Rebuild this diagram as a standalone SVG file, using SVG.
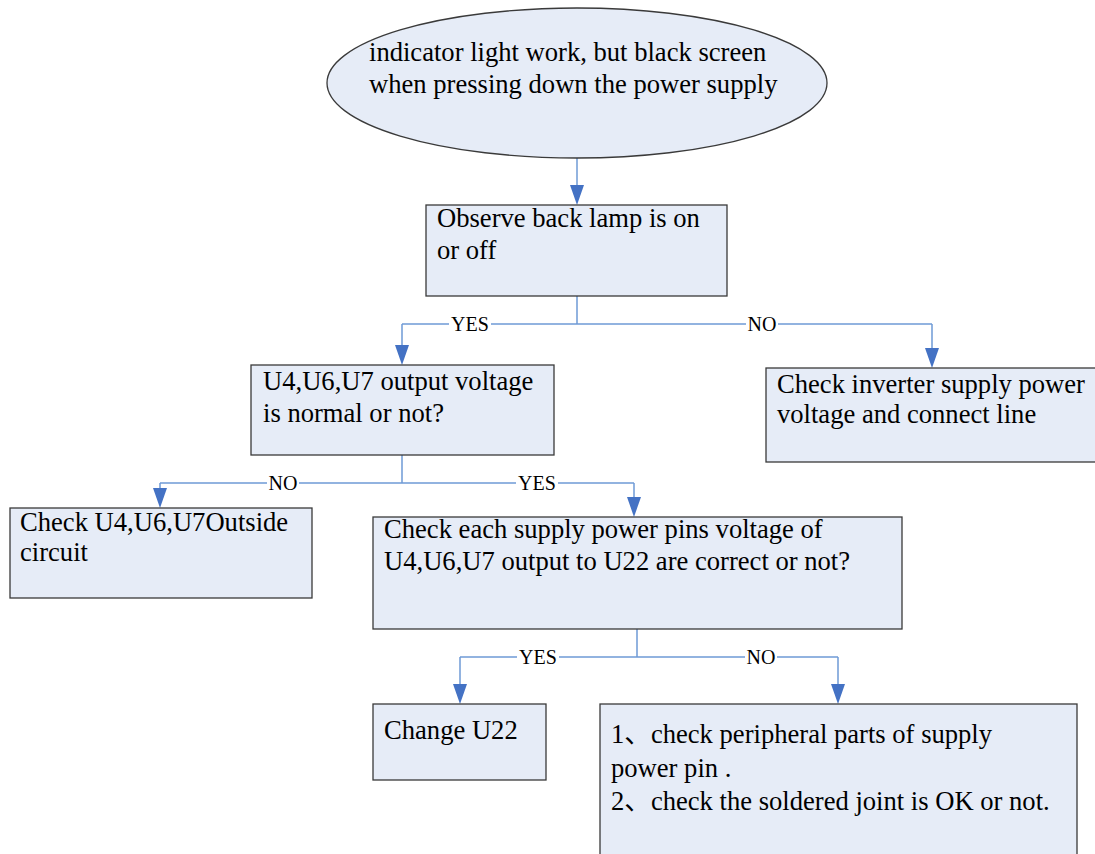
<svg xmlns="http://www.w3.org/2000/svg" width="1095" height="854" viewBox="0 0 1095 854">
<style>
.box{fill:#E6ECF7;stroke:#3a3a3a;stroke-width:1.3}
.t{font-family:'Liberation Serif',Tinos,'Times New Roman',Times,'DejaVu Serif',serif;font-size:26.6px;fill:#000}
.lbl{font-family:'Liberation Serif',Tinos,'Times New Roman',Times,'DejaVu Serif',serif;font-size:20px;fill:#000}
.ln{fill:none;stroke:#6F9BD6;stroke-width:1.5}
.lb{fill:#fff}
.ar{fill:#4472C4}
</style>
<rect width="1095" height="854" fill="#fff"/>
<g id="connectors">
<path class="ln" d="M577,158 V185"/>
<path class="ar" d="M570,185 L584,185 L577,205 Z"/>
<path class="ln" d="M577,296 V324 M402,324 H932 M402,324 V345 M932,324 V348"/>
<path class="ar" d="M395,345 L409,345 L402,365 Z"/>
<path class="ar" d="M925,348 L939,348 L932,368 Z"/>
<rect class="lb" x="449" y="314" width="42" height="20"/>
<text class="lbl" x="470" y="331" text-anchor="middle">YES</text>
<rect class="lb" x="746" y="314" width="32" height="20"/>
<text class="lbl" x="762" y="331" text-anchor="middle">NO</text>
<path class="ln" d="M402,455 V483 M160,483 H634 M160,483 V488 M634,483 V497"/>
<path class="ar" d="M153,488 L167,488 L160,508 Z"/>
<path class="ar" d="M627,497 L641,497 L634,517 Z"/>
<rect class="lb" x="267" y="473" width="32" height="20"/>
<text class="lbl" x="283" y="490" text-anchor="middle">NO</text>
<rect class="lb" x="516" y="473" width="42" height="20"/>
<text class="lbl" x="537" y="490" text-anchor="middle">YES</text>
<path class="ln" d="M637,629 V657 M460,657 H838 M460,657 V684 M838,657 V684"/>
<path class="ar" d="M453,684 L467,684 L460,704 Z"/>
<path class="ar" d="M831,684 L845,684 L838,704 Z"/>
<rect class="lb" x="517" y="647" width="42" height="20"/>
<text class="lbl" x="538" y="664" text-anchor="middle">YES</text>
<rect class="lb" x="745" y="647" width="32" height="20"/>
<text class="lbl" x="761" y="664" text-anchor="middle">NO</text>
</g>
<g id="start">
<ellipse class="box" cx="577" cy="83" rx="250" ry="75"/>
<text class="t" x="369" y="61">indicator light work, but black screen</text>
<text class="t" x="369" y="93">when pressing down the power supply</text>
</g>
<g id="observe">
<rect class="box" x="426" y="205" width="301" height="91"/>
<text class="t" x="437" y="227">Observe back lamp is on</text>
<text class="t" x="437" y="259">or off</text>
</g>
<g id="voltage">
<rect class="box" x="251" y="365" width="303" height="90"/>
<text class="t" x="263" y="390">U4,U6,U7 output voltage</text>
<text class="t" x="263" y="422">is normal or not?</text>
</g>
<g id="inverter">
<rect class="box" x="766" y="368" width="330" height="94"/>
<text class="t" x="777" y="393">Check inverter supply power</text>
<text class="t" x="777" y="423">voltage and connect line</text>
</g>
<g id="outside">
<rect class="box" x="10" y="508" width="302" height="90"/>
<text class="t" x="20" y="531">Check U4,U6,U7Outside</text>
<text class="t" x="20" y="561">circuit</text>
</g>
<g id="pins">
<rect class="box" x="373" y="517" width="529" height="112"/>
<text class="t" x="384" y="538">Check each supply power pins voltage of</text>
<text class="t" x="384" y="570">U4,U6,U7 output to U22 are correct or not?</text>
</g>
<g id="change">
<rect class="box" x="373" y="704" width="173" height="76"/>
<text class="t" x="384" y="739">Change U22</text>
</g>
<g id="peripheral">
<rect class="box" x="600" y="704" width="477" height="160"/>
<text class="t" x="611" y="743">1<tspan font-family="'Noto Sans CJK SC',sans-serif">、</tspan>check peripheral parts of supply</text>
<text class="t" x="611" y="777">power pin .</text>
<text class="t" x="611" y="810">2<tspan font-family="'Noto Sans CJK SC',sans-serif">、</tspan>check the soldered joint is OK or not.</text>
</g>
</svg>
